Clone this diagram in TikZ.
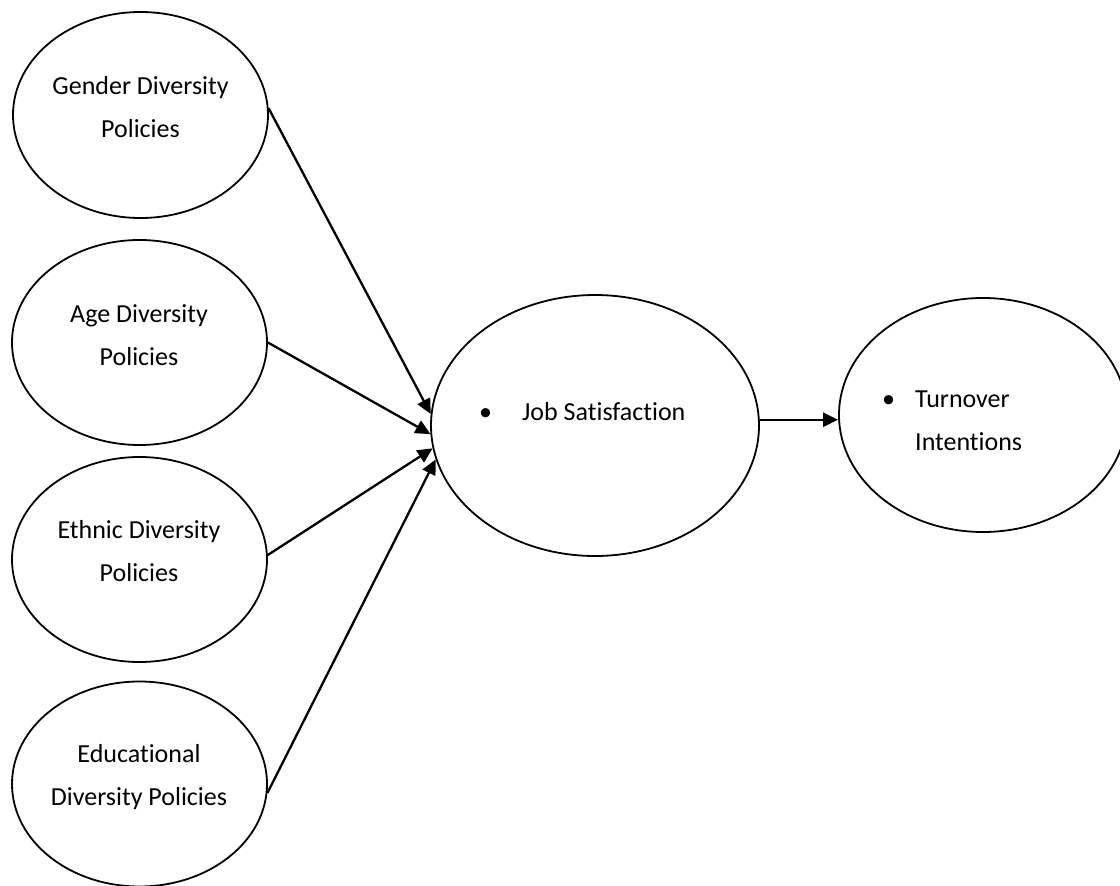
\documentclass[tikz,border=0pt]{standalone}
\usepackage{fontspec}
\setmainfont[Ligatures={NoCommon}]{Carlito}
\usetikzlibrary{shapes.geometric,arrows.meta}
\begin{document}
\begin{tikzpicture}[x=1pt,y=-1pt,
  oval/.style={draw,ellipse,line width=1.8pt,inner sep=0pt},
  lbl/.style={font=\fontsize{26}{43}\selectfont,align=center,inner sep=0pt},
  conn/.style={line width=2.3pt,-{Triangle[length=15pt,width=14pt]}}]
\useasboundingbox (0,0) rectangle (1120,886);
% ellipses
\node[oval,minimum width=255pt,minimum height=206pt] (g) at (140.5,115) {};
\node[oval,minimum width=255pt,minimum height=205pt] (a) at (139.5,342.5) {};
\node[oval,minimum width=255pt,minimum height=205pt] (e) at (139.5,559.5) {};
\node[oval,minimum width=255pt,minimum height=205pt] (d) at (139.5,784) {};
\node[oval,minimum width=328pt,minimum height=261pt] (j) at (595,425.5) {};
\node[oval,minimum width=288pt,minimum height=234pt] (t) at (983,415) {};
% texts
\node[lbl] (gt) at (140.5,107.5) {Gender Diversity\\Policies};
\node[lbl] (at) at (139,335) {Age Diversity\\Policies};
\node[lbl] (et) at (139,551.5) {Ethnic Diversity\\Policies};
\node[lbl] (dt) at (139,777.5) {Educational\\Diversity Policies};
\node[lbl,anchor=base west] (jt) at (479,420) {\makebox[43pt][l]{•}Job Satisfaction};
\node[lbl,align=left,anchor=west] (tt) at (882,420.5) {\makebox[33pt][l]{•}Turnover\\\hspace*{33pt}Intentions};
% connectors
\draw[conn] (g.3) -- (j.176.3);
\draw[conn] (a.-0.5) -- (j.-177.4);
\draw[conn] (e.2) -- (j.-172.4);
\draw[conn] (d.-4) -- (j.-168.8);
\draw[conn] (j.2.6) -- (j.2.6 -| t.west);
\end{tikzpicture}
\end{document}
